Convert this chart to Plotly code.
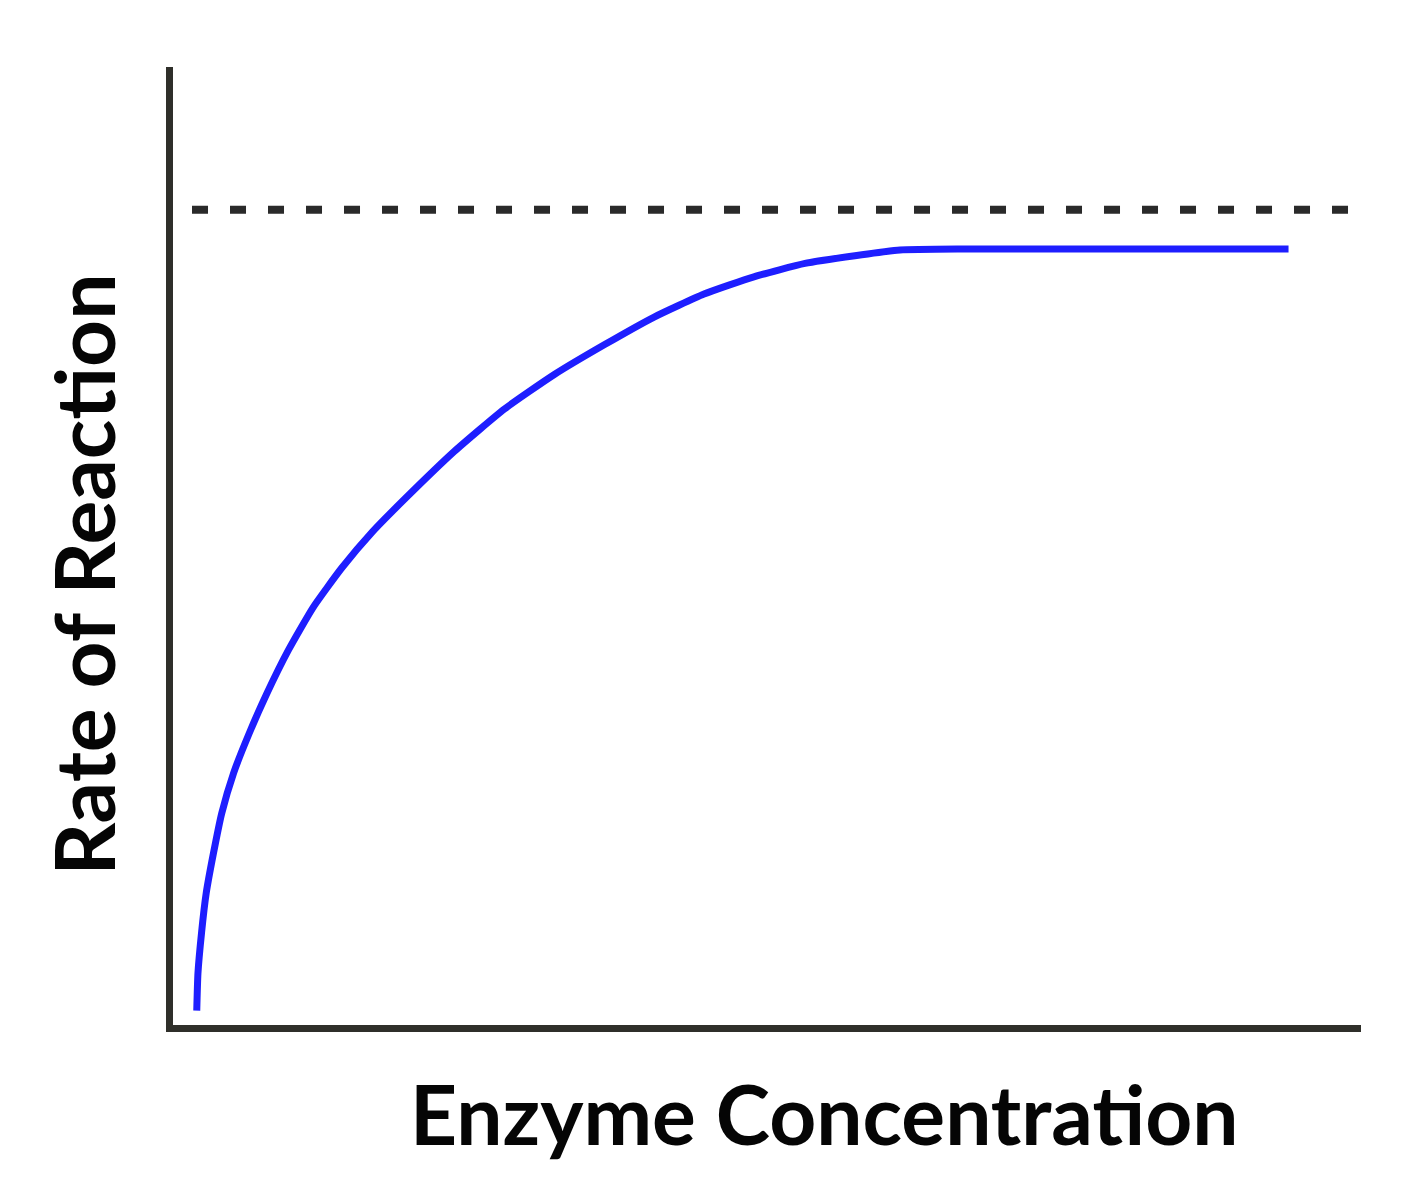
import plotly.graph_objects as go

# enzyme concentration vs rate of reaction (arbitrary units)
conc = [0.20, 0.21, 0.24, 0.28, 0.34, 0.41, 0.51, 0.64, 0.79, 0.97, 1.18, 1.42, 1.68,
        1.95, 2.37, 2.79, 3.21, 3.63, 4.05, 4.47, 4.89, 5.32, 5.74, 6.12, 6.66, 9.39]
rate = [0.15, 0.54, 0.96, 1.38, 1.79, 2.21, 2.63, 3.04, 3.46, 3.91, 4.36, 4.77, 5.15,
        5.49, 5.99, 6.43, 6.79, 7.10, 7.39, 7.63, 7.81, 7.95, 8.03, 8.09, 8.10, 8.10]

# dotted maximum-rate line
vmax_x = [0.16, 9.95]
vmax_y = [8.51, 8.51]

x_title = "Enzyme Concentration"
y_title = "Rate of Reaction"

fig = go.Figure()
fig.add_trace(go.Scatter(x=vmax_x, y=vmax_y, mode="lines",
                         line=dict(color="#2a2a2a", width=8, dash="16px,22px")))
fig.add_trace(go.Scatter(x=conc, y=rate, mode="lines",
                         line=dict(color="#1e1eff", width=7, shape="spline", smoothing=0.5)))

axis_style = dict(range=[0, 10], showgrid=False, zeroline=False, showticklabels=False,
                  ticks="", showline=True, linecolor="#2f2f2a", linewidth=7)
fig.update_xaxes(**axis_style)
fig.update_yaxes(**axis_style)

title_font = dict(family="Lato", size=82, color="#050505", weight="bold")
fig.add_annotation(text=x_title, xref="paper", yref="paper", x=0.548, y=-0.092,
                   xanchor="center", yanchor="middle", showarrow=False, font=title_font)
fig.add_annotation(text=y_title, xref="paper", yref="paper", x=-0.076, y=0.47,
                   xanchor="center", yanchor="middle", textangle=-90, showarrow=False,
                   font=title_font)

fig.update_layout(
    width=1428, height=1200,
    margin=dict(l=165, r=75, t=59, b=183),
    plot_bgcolor="white", paper_bgcolor="white",
    showlegend=False,
)

fig.write_html("out.html")
